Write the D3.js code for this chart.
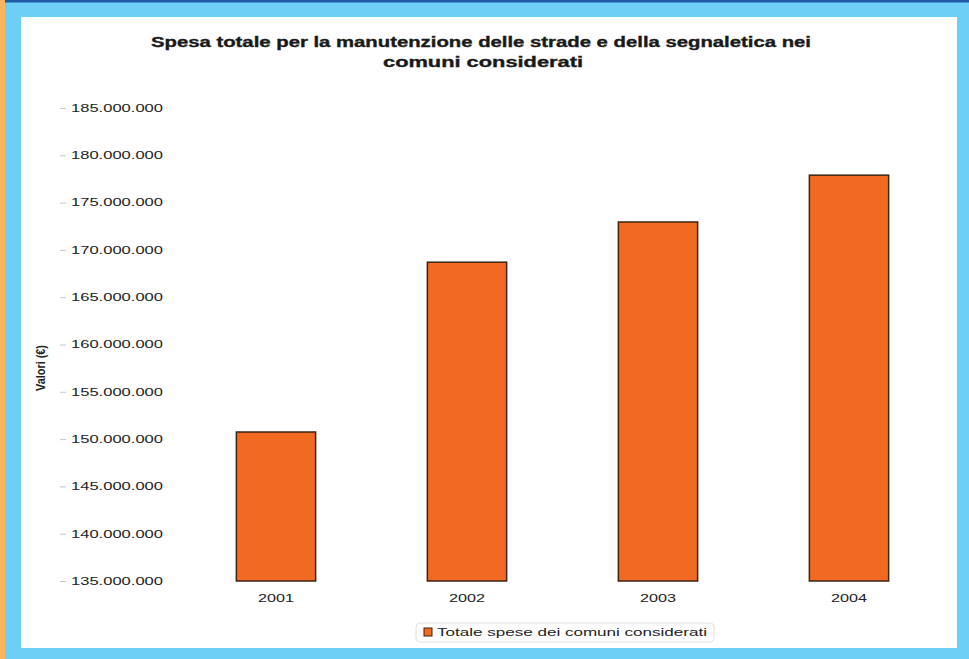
<!DOCTYPE html>
<html>
<head>
<meta charset="utf-8">
<script src="https://cdn.jsdelivr.net/npm/d3@7"></script>
<style>
  html, body { margin: 0; padding: 0; background: #6dcff6; }
  svg { display: block; }
</style>
</head>
<body>
<svg id="chart" width="969" height="659"></svg>
<script>
// Spesa totale (euro) per anno
const years = ["2001", "2002", "2003", "2004"];
const spesa = [150750000, 168700000, 172950000, 177900000];
const yTicks = [135000000, 140000000, 145000000, 150000000, 155000000, 160000000,
                165000000, 170000000, 175000000, 180000000, 185000000];
const titleLines = ["Spesa totale per la manutenzione delle strade e della segnaletica nei",
                    "comuni considerati"];
const yTitle = "Valori (€)";
const legendLabel = "Totale spese dei comuni considerati";

const svg = d3.select("#chart");
const W = 969, H = 659;

// cornice
svg.append("rect").attr("x", 0).attr("y", 0).attr("width", W).attr("height", H).attr("fill", "#6dcff6");
svg.append("rect").attr("x", 0).attr("y", 0).attr("width", W).attr("height", 2.5).attr("fill", "#1d5aa6");
svg.append("rect").attr("x", 0).attr("y", 0).attr("width", 5).attr("height", H).attr("fill", "#fbb45e");
svg.append("rect").attr("x", 21).attr("y", 17).attr("width", 936).attr("height", 631).attr("fill", "#ffffff");

const font = "'Liberation Sans', Arial, sans-serif";

// titolo
svg.append("text").attr("x", 481).attr("y", 47)
  .attr("text-anchor", "middle").attr("font-family", font).attr("font-weight", "bold")
  .attr("font-size", 14.5).attr("fill", "#1a1a1a")
  .attr("stroke", "#1a1a1a").attr("stroke-width", 0.35)
  .attr("textLength", 660).attr("lengthAdjust", "spacingAndGlyphs")
  .text(titleLines[0]);
svg.append("text").attr("x", 483).attr("y", 67)
  .attr("text-anchor", "middle").attr("font-family", font).attr("font-weight", "bold")
  .attr("font-size", 14.5).attr("fill", "#1a1a1a")
  .attr("stroke", "#1a1a1a").attr("stroke-width", 0.35)
  .attr("textLength", 200).attr("lengthAdjust", "spacingAndGlyphs")
  .text(titleLines[1]);

// scale
const y = d3.scaleLinear().domain([135000000, 185000000]).range([581, 108]);
const x = d3.scaleBand().domain(years).range([180.5, 944.5])
  .paddingInner(0.585).paddingOuter(0.2925);

const fmt = v => d3.format(",")(v).replace(/,/g, ".");

// asse Y
const yAxis = svg.append("g").attr("transform", "translate(166,0)")
  .call(d3.axisLeft(y).tickValues(yTicks).tickFormat(fmt).tickSize(0).tickPadding(3));
yAxis.select(".domain").remove();
yAxis.selectAll("text")
  .attr("font-family", font).attr("font-size", 10.5).attr("fill", "#222")
  .attr("textLength", 92).attr("lengthAdjust", "spacingAndGlyphs");
yAxis.selectAll(".tick").append("line")
  .attr("x1", -106).attr("x2", -100).attr("stroke", "#c8c8c8").attr("stroke-width", 1);

// titolo asse Y
svg.append("text")
  .attr("transform", "translate(45,368) rotate(-90)")
  .attr("text-anchor", "middle").attr("font-family", font).attr("font-weight", "bold")
  .attr("font-size", 12).attr("fill", "#222")
  .attr("textLength", 46).attr("lengthAdjust", "spacingAndGlyphs")
  .text(yTitle);

// barre
svg.append("g").selectAll("rect").data(years).join("rect")
  .attr("x", d => x(d))
  .attr("y", (d, i) => y(spesa[i]))
  .attr("width", x.bandwidth())
  .attr("height", (d, i) => y(135000000) - y(spesa[i]))
  .attr("fill", "#f26a22")
  .attr("stroke", "#3a2414")
  .attr("stroke-width", 1.5);

// asse X
const xAxis = svg.append("g").attr("transform", "translate(0,590)")
  .call(d3.axisBottom(x).tickSize(0).tickPadding(4));
xAxis.select(".domain").remove();
xAxis.selectAll("text")
  .attr("font-family", font).attr("font-size", 11).attr("fill", "#222")
  .attr("textLength", 36).attr("lengthAdjust", "spacingAndGlyphs");

// legenda
const lg = svg.append("g");
lg.append("rect").attr("x", 416).attr("y", 623).attr("width", 298).attr("height", 19)
  .attr("rx", 4).attr("fill", "none").attr("stroke", "#e0e0e0").attr("stroke-width", 1);
lg.append("rect").attr("x", 424).attr("y", 628).attr("width", 8).attr("height", 8)
  .attr("fill", "#f26a22").attr("stroke", "#3a2414").attr("stroke-width", 1);
lg.append("text").attr("x", 437).attr("y", 636)
  .attr("font-family", font).attr("font-size", 11).attr("fill", "#222")
  .attr("textLength", 270).attr("lengthAdjust", "spacingAndGlyphs")
  .text(legendLabel);
</script>
</body>
</html>
